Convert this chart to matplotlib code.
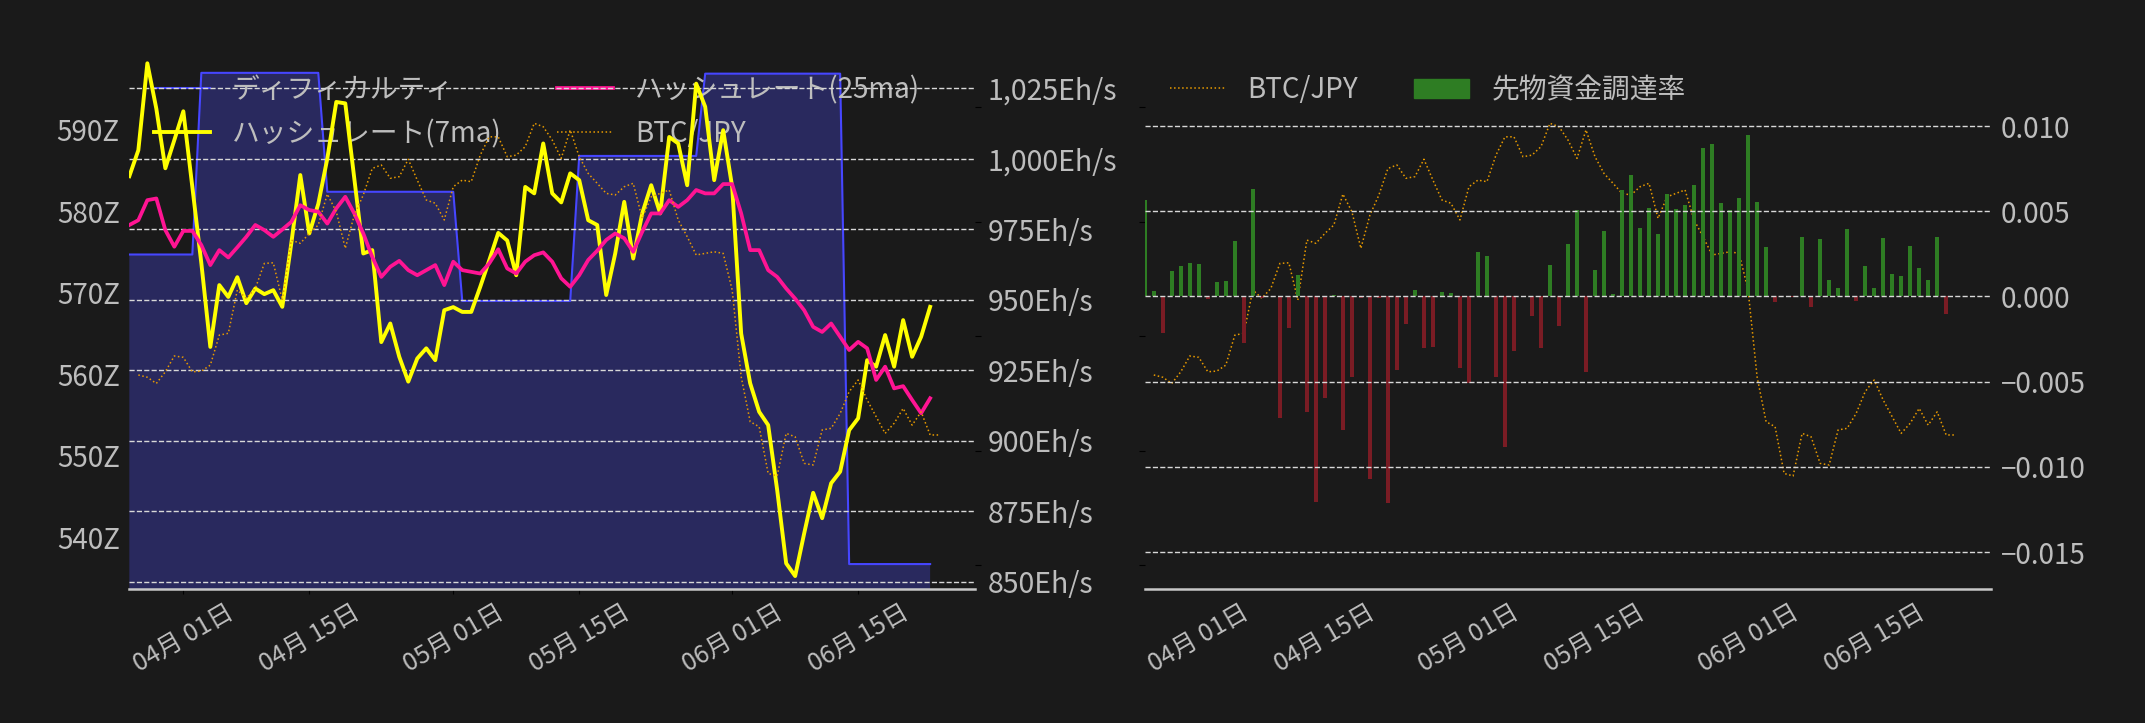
import numpy as np
import pandas as pd
import matplotlib
matplotlib.use('Agg')
import matplotlib.pyplot as plt
import matplotlib.dates as mdates
from matplotlib.ticker import FuncFormatter
from matplotlib.patches import Patch

plt.rcParams['font.family'] = ['Noto Sans CJK JP', 'DejaVu Sans']

# ---- data ----
dates = pd.date_range('2025-03-26', periods=90, freq='D')
btc_dates = pd.date_range('2025-03-27', periods=90, freq='D')

# difficulty in Z (step series, one value per day)
difficulty = [574.7, 574.7, 574.7, 574.7, 574.7, 574.7, 574.7, 574.7,
              597.0, 597.0, 597.0, 597.0, 597.0, 597.0, 597.0, 597.0, 597.0, 597.0, 597.0, 597.0, 597.0, 597.0,
              582.4, 582.4, 582.4, 582.4, 582.4, 582.4, 582.4, 582.4, 582.4, 582.4, 582.4, 582.4, 582.4, 582.4, 582.4,
              569.0, 569.0, 569.0, 569.0, 569.0, 569.0, 569.0, 569.0, 569.0, 569.0, 569.0, 569.0, 569.0,
              586.8, 586.8, 586.8, 586.8, 586.8, 586.8, 586.8, 586.8, 586.8, 586.8, 586.8, 586.8, 586.8, 586.8,
              596.9, 596.9, 596.9, 596.9, 596.9, 596.9, 596.9, 596.9, 596.9, 596.9, 596.9, 596.9, 596.9, 596.9, 596.9, 596.9,
              536.7, 536.7, 536.7, 536.7, 536.7, 536.7, 536.7, 536.7, 536.7, 536.7]

# hashrate Eh/s
hash_7ma = [993.8, 1003.0, 1033.8, 1017.7, 996.6, 1006.6, 1016.8, 990.0, 963.0, 933.3,
            955.2, 951.0, 958.0, 948.8, 954.0, 952.0, 953.4, 947.5, 970.0, 994.2,
            973.5, 984.0, 1000.0, 1020.1, 1019.6, 993.0, 966.4, 967.6, 935.0, 941.6,
            929.8, 921.0, 929.2, 932.8, 928.6, 946.3, 947.4, 945.7, 945.7, 954.6,
            964.0, 973.7, 971.0, 958.7, 990.0, 987.7, 1005.4, 987.7, 984.5, 994.8,
            992.4, 978.2, 976.5, 951.7, 966.4, 984.7, 964.6, 980.6, 990.6, 980.6,
            1007.7, 1005.4, 990.6, 1026.6, 1018.4, 992.4, 1010.1, 990.0, 938.0, 920.4,
            910.3, 905.6, 882.6, 856.6, 852.1, 867.2, 881.6, 872.6, 885.0, 889.1,
            903.8, 908.0, 928.6, 926.3, 937.5, 926.3, 942.8, 929.8, 936.9, 947.5]

hash_25ma = [976.5, 978.2, 985.3, 985.9, 974.7, 968.8, 974.4, 974.4, 969.4, 962.3,
             967.6, 965.0, 968.6, 972.3, 976.5, 974.7, 972.3, 974.9, 977.6, 983.5,
             981.8, 981.2, 977.0, 982.4, 986.5, 980.6, 973.5, 965.2, 958.1, 961.7,
             963.8, 960.5, 958.7, 960.5, 962.3, 955.2, 963.5, 960.5, 959.9, 959.3,
             962.9, 967.9, 961.1, 959.3, 963.5, 965.8, 966.8, 963.5, 957.6, 954.6,
             958.7, 964.1, 967.4, 971.2, 973.5, 971.8, 967.0, 974.1, 980.6, 980.6,
             985.3, 982.9, 985.3, 988.9, 987.7, 987.7, 991.0, 991.0, 980.6, 967.6,
             967.6, 960.5, 958.1, 954.0, 950.4, 946.3, 940.4, 938.6, 941.6, 936.9,
             932.2, 935.1, 932.8, 921.6, 926.3, 918.6, 919.4, 914.5, 909.8, 915.1]

# BTC/JPY in 万円
btc_jpy = [1383.0, 1382.0, 1379.3, 1384.4, 1391.3, 1390.7, 1384.4, 1384.7, 1387.3, 1400.4,
           1401.2, 1420.1, 1416.5, 1420.8, 1431.7, 1432.0, 1415.7, 1441.9, 1440.5, 1444.8,
           1448.5, 1462.0, 1454.3, 1438.3, 1452.8, 1461.6, 1473.2, 1474.7, 1468.9, 1469.6,
           1477.2, 1468.1, 1459.4, 1458.0, 1450.7, 1465.2, 1468.1, 1467.4, 1479.0, 1487.0,
           1487.0, 1478.3, 1479.0, 1482.7, 1492.9, 1491.4, 1485.6, 1477.6, 1490.0, 1478.3,
           1471.0, 1466.7, 1462.3, 1461.6, 1465.2, 1466.7, 1451.4, 1460.8, 1462.3, 1463.8,
           1450.7, 1443.4, 1435.4, 1436.1, 1436.8, 1436.1, 1420.1, 1382.2, 1362.6, 1360.4,
           1340.0, 1338.9, 1357.5, 1356.0, 1344.4, 1343.7, 1359.0, 1359.7, 1366.2, 1375.7,
           1380.8, 1372.1, 1364.8, 1357.5, 1361.9, 1368.4, 1361.1, 1366.9, 1356.8, 1356.8]

# futures funding rate
funding = [0.00565, 0.00031, -0.00212, 0.00149, 0.00178, 0.00196, 0.00190, -0.00014, 0.00084, 0.00092,
           0.00325, -0.00276, 0.00630, -0.00010, 0.0, -0.00712, -0.00188, 0.00125, -0.00678, -0.01208,
           -0.00596, 0.00008, -0.00784, -0.00473, -0.00010, -0.01073, -0.00010, -0.01214, -0.00433, -0.00163,
           0.00037, -0.00302, -0.00296, 0.00025, 0.00020, -0.00420, -0.00506, 0.00260, 0.00237, -0.00473,
           -0.00884, -0.00320, -0.00005, -0.00114, -0.00302, 0.00182, -0.00173, 0.00307, 0.00507, -0.00443,
           0.00155, 0.00383, 0.00014, 0.00624, 0.00714, 0.00402, 0.00520, 0.00367, 0.00602, 0.00512,
           0.00537, 0.00655, 0.00873, 0.00896, 0.00549, 0.00507, 0.00578, 0.00949, 0.00555, 0.00290,
           -0.00031, 0.0, -0.00003, 0.00349, -0.00065, 0.00337, 0.00098, 0.00049, 0.00396, -0.00025,
           0.00178, 0.00049, 0.00343, 0.00131, 0.00120, 0.00296, 0.00167, 0.00096, 0.00349, -0.00106]

diff_ticks = [540, 550, 560, 570, 580, 590]
hash_ticks = [850, 875, 900, 925, 950, 975, 1000, 1025]
btc_ticks = [1300, 1350, 1400, 1450, 1500]
fund_ticks = [-0.015, -0.010, -0.005, 0.0, 0.005, 0.010]

BG = '#1a1a1a'
TXT = '#bdbdbd'
GRID = '#d8d8d8'
BLUE = '#4646ff'
YELLOW = '#ffff00'
PINK = '#ff1493'
ORANGE = '#e89a00'
GREEN = '#2e7d23'
RED = '#7a1c24'

fig = plt.figure(figsize=(21.45, 7.23), dpi=100, facecolor=BG)

xmin = dates[0]
xmax = dates[0] + pd.Timedelta(days=94)


def clean(ax):
    for s in ax.spines.values():
        s.set_visible(False)


def style_x(ax, show_ticks=True):
    ax.set_xlim(xmin, xmax)
    ax.xaxis.set_major_locator(mdates.DayLocator(bymonthday=[1, 15]))
    ax.xaxis.set_major_formatter(mdates.DateFormatter('%m月 %d日'))
    ax.tick_params(axis='x', colors='black', labelcolor=TXT, labelsize=18,
                   rotation=30, length=3.5 if show_ticks else 0, pad=3.5 if show_ticks else 7)
    ax.spines['bottom'].set_visible(True)
    ax.spines['bottom'].set_color('#c8c8c8')
    ax.spines['bottom'].set_linewidth(1.8)


# ---------------- left: difficulty / hashrate ----------------
ax1 = fig.add_axes([0.0603, 0.1849, 0.3943, 0.7459])
ax1.set_facecolor(BG)
ax1h = ax1.twinx()
ax1b = ax1.twinx()
for a in (ax1, ax1h, ax1b):
    clean(a)

l_diff, = ax1.plot(dates, difficulty, color=BLUE, lw=1.5)
ax1.fill_between(dates, difficulty, 0, color='#4f4ffd', alpha=0.3, lw=0)
ax1.set_ylim(533.6, 599.8)
ax1.set_yticks(diff_ticks)
ax1.yaxis.set_major_formatter(FuncFormatter(lambda v, p: f'{v:.0f}Z'))
ax1.tick_params(axis='y', length=0, pad=7, labelsize=20, labelcolor=TXT)
style_x(ax1)

l7, = ax1h.plot(dates, hash_7ma, color=YELLOW, lw=2.8)
l25, = ax1h.plot(dates, hash_25ma, color=PINK, lw=2.7)
ax1h.set_ylim(847.4, 1038.5)
ax1h.set_yticks(hash_ticks)
ax1h.yaxis.set_major_formatter(FuncFormatter(lambda v, p: f'{v:,.0f}Eh/s'))
ax1h.tick_params(axis='y', length=0, pad=9, labelsize=20.5, labelcolor=TXT)
ax1h.grid(axis='y', ls='--', color=GRID, lw=1)

lb, = ax1b.plot(btc_dates, btc_jpy, color=ORANGE, lw=1.1, ls=':')
ax1b.set_ylim(1289.4, 1524.9)
ax1b.set_yticks(btc_ticks)
ax1b.set_yticklabels([])
ax1b.tick_params(axis='y', colors='black', length=4)
ax1b.set_xlim(xmin, xmax)

ax1.legend([l_diff, l7, l25, lb],
           ['ディフィカルティ', 'ハッシュレート(7ma)', 'ハッシュレート(25ma)', 'BTC/JPY'],
           ncol=2, loc='upper left', frameon=False, fontsize=20, labelcolor=TXT)

# ---------------- right: BTC / funding rate ----------------
ax2 = fig.add_axes([0.5337, 0.1849, 0.3946, 0.7459])
ax2.set_facecolor(BG)
ax2f = ax2.twinx()
for a in (ax2, ax2f):
    clean(a)

lb2, = ax2.plot(btc_dates, btc_jpy, color=ORANGE, lw=1.1, ls=':')
ax2.set_ylim(1289.4, 1524.9)
ax2.set_yticks(btc_ticks)
ax2.set_yticklabels([])
ax2.tick_params(axis='y', colors='black', length=4)
style_x(ax2, show_ticks=False)

fund = np.array(funding)
ax2f.bar(dates, fund, width=0.5, color=np.where(fund >= 0, GREEN, RED))
ax2f.set_ylim(-0.01719, 0.01446)
ax2f.set_yticks(fund_ticks)
ax2f.yaxis.set_major_formatter(FuncFormatter(lambda v, p: f'{v:.3f}'.replace('-', '\u2212')))
ax2f.tick_params(axis='y', length=0, pad=7, labelsize=20, labelcolor=TXT)
ax2f.grid(axis='y', ls='--', color=GRID, lw=1)
ax2f.set_xlim(xmin, xmax)

ax2f.legend([lb2, Patch(color=GREEN)], ['BTC/JPY', '先物資金調達率'],
            ncol=2, loc='upper left', frameon=False, fontsize=20, labelcolor=TXT)

fig.savefig('out.png', dpi=100, facecolor=BG)
